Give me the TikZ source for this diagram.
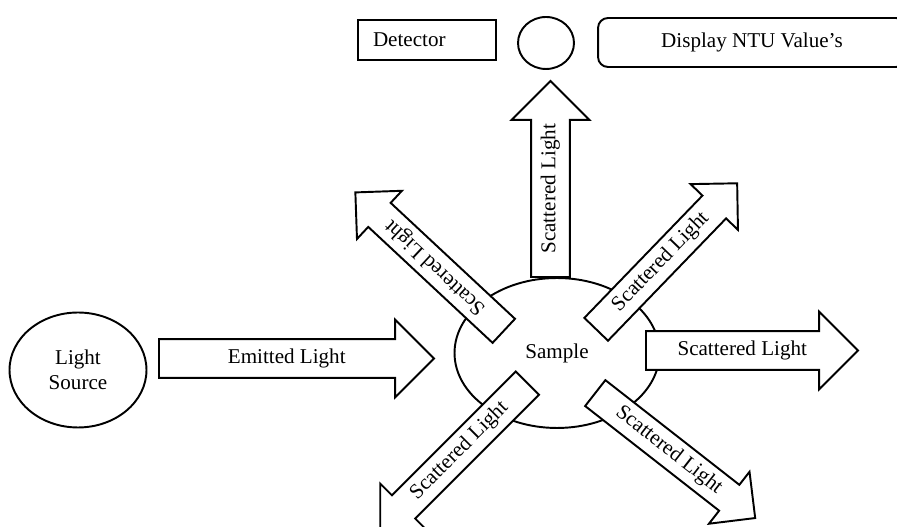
\documentclass[tikz,border=0pt]{standalone}
\usepackage{fontspec}
\setmainfont{Liberation Serif}
\usetikzlibrary{shapes.geometric, shapes.arrows}
\tikzset{
  blk/.style={
    rectangle, draw=black, line width=1.1pt, fill=white,
    minimum height=0.8cm, inner sep=0pt
  },
  oval/.style={
    ellipse, draw=black, line width=1.1pt, fill=white,
    inner sep=0pt, align=center
  },
  sarr/.style={
    single arrow, draw=black, line width=1.1pt, fill=white,
    text height=8pt, text depth=2.5pt, inner ysep=5.25pt, inner xsep=2pt,
    single arrow head extend=11pt, anchor=tail
  },
  darr/.style={
    sarr, inner ysep=3.55pt, single arrow head extend=9.4pt,
    minimum height=4.06cm
  },
}

\begin{document}
\begin{tikzpicture}[x=0.02cm, y=0.02cm, font=\fontsize{12}{14}\selectfont]
\useasboundingbox (0,0) rectangle (897,527);
\clip (0,0) rectangle (897,527);

%% ── Top row: Detector | lens | display ──────────────────────────────────────
\node[blk, minimum width=2.76cm, text width=2.16cm, align=left, inner xsep=0.3cm]
  (det) at (427,487) {Detector};
\node[oval, minimum width=1.12cm, minimum height=1.04cm] (lens) at (546,484) {};
\node[blk, rounded corners=0.2cm, minimum width=6.16cm, minimum height=0.98cm]
  (disp) at (752,484.5) {Display NTU Value's};

%% ── Source and sample ───────────────────────────────────────────────────────
\node[oval, minimum width=2.74cm, minimum height=2.3cm] (src) at (78,157) {Light\\Source};
\node[oval, minimum width=4.1cm, minimum height=3.0cm] (smp) at (557,174) {Sample};

%% ── Emitted light into the sample ───────────────────────────────────────────
\node[sarr, minimum height=5.5cm] (emit) at (158,168.5) {Emitted Light};

%% ── Scattered light out of the sample ───────────────────────────────────────
\node[sarr, minimum height=3.92cm, rotate=90] (sup) at (550.5,249) {Scattered Light};
\node[sarr, minimum height=4.24cm] (sright) at (645,176.5) {Scattered Light};
\node[darr, rotate=137] (sul) at (504.5,195.5) {Scattered Light};
\node[darr, rotate=46] (sur) at (595.5,197) {Scattered Light};
\node[darr, minimum height=4.16cm, shape border rotate=180, rotate=45]
  (sdl) at (528,144.5) {Scattered Light};
\node[darr, rotate=-38] (sdr) at (594.5,134.5) {Scattered Light};

\end{tikzpicture}
\end{document}
